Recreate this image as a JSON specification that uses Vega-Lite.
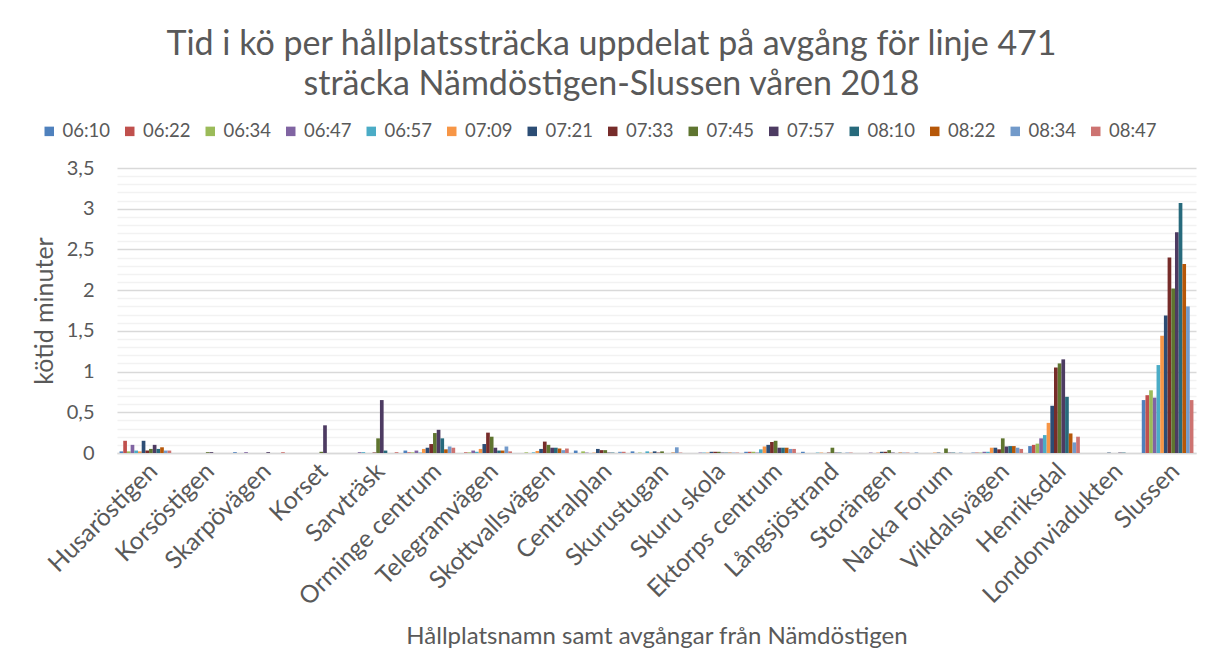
{
"$schema": "https://vega.github.io/schema/vega-lite/v6.json",
"width": 1079, "height": 285,
"autosize": {"type": "none"},
"padding": {"left": 117, "top": 168, "right": 26, "bottom": 213},
"background": "white",
"title": {"text": ["Tid i kö per hållplatssträcka uppdelat på avgång för linje 471", "sträcka Nämdöstigen-Slussen våren 2018"], "font": "Lato", "fontSize": 34, "fontWeight": "normal", "color": "#595959", "anchor": "middle", "dx": -45, "lineHeight": 40, "offset": 20},
"data": {"values": [
{"stop":"Husaröstigen","dep":"06:10","min":0.02},{"stop":"Husaröstigen","dep":"06:22","min":0.15},{"stop":"Husaröstigen","dep":"06:34","min":0.02},{"stop":"Husaröstigen","dep":"06:47","min":0.10},{"stop":"Husaröstigen","dep":"06:57","min":0.03},{"stop":"Husaröstigen","dep":"07:09","min":0.02},{"stop":"Husaröstigen","dep":"07:21","min":0.15},{"stop":"Husaröstigen","dep":"07:33","min":0.03},{"stop":"Husaröstigen","dep":"07:45","min":0.05},{"stop":"Husaröstigen","dep":"07:57","min":0.10},{"stop":"Husaröstigen","dep":"08:10","min":0.05},{"stop":"Husaröstigen","dep":"08:22","min":0.07},{"stop":"Husaröstigen","dep":"08:34","min":0.03},{"stop":"Husaröstigen","dep":"08:47","min":0.03},
{"stop":"Korsöstigen","dep":"06:10","min":0},{"stop":"Korsöstigen","dep":"06:22","min":0},{"stop":"Korsöstigen","dep":"06:34","min":0},{"stop":"Korsöstigen","dep":"06:47","min":0},{"stop":"Korsöstigen","dep":"06:57","min":0},{"stop":"Korsöstigen","dep":"07:09","min":0},{"stop":"Korsöstigen","dep":"07:21","min":0},{"stop":"Korsöstigen","dep":"07:33","min":0},{"stop":"Korsöstigen","dep":"07:45","min":0.01},{"stop":"Korsöstigen","dep":"07:57","min":0.01},{"stop":"Korsöstigen","dep":"08:10","min":0},{"stop":"Korsöstigen","dep":"08:22","min":0},{"stop":"Korsöstigen","dep":"08:34","min":0},{"stop":"Korsöstigen","dep":"08:47","min":0},
{"stop":"Skarpövägen","dep":"06:10","min":0.01},{"stop":"Skarpövägen","dep":"06:22","min":0},{"stop":"Skarpövägen","dep":"06:34","min":0},{"stop":"Skarpövägen","dep":"06:47","min":0.01},{"stop":"Skarpövägen","dep":"06:57","min":0},{"stop":"Skarpövägen","dep":"07:09","min":0},{"stop":"Skarpövägen","dep":"07:21","min":0},{"stop":"Skarpövägen","dep":"07:33","min":0},{"stop":"Skarpövägen","dep":"07:45","min":0},{"stop":"Skarpövägen","dep":"07:57","min":0.01},{"stop":"Skarpövägen","dep":"08:10","min":0},{"stop":"Skarpövägen","dep":"08:22","min":0},{"stop":"Skarpövägen","dep":"08:34","min":0},{"stop":"Skarpövägen","dep":"08:47","min":0.01},
{"stop":"Korset","dep":"06:10","min":0},{"stop":"Korset","dep":"06:22","min":0},{"stop":"Korset","dep":"06:34","min":0},{"stop":"Korset","dep":"06:47","min":0},{"stop":"Korset","dep":"06:57","min":0},{"stop":"Korset","dep":"07:09","min":0},{"stop":"Korset","dep":"07:21","min":0},{"stop":"Korset","dep":"07:33","min":0},{"stop":"Korset","dep":"07:45","min":0.015},{"stop":"Korset","dep":"07:57","min":0.34},{"stop":"Korset","dep":"08:10","min":0},{"stop":"Korset","dep":"08:22","min":0},{"stop":"Korset","dep":"08:34","min":0},{"stop":"Korset","dep":"08:47","min":0},
{"stop":"Sarvträsk","dep":"06:10","min":0},{"stop":"Sarvträsk","dep":"06:22","min":0},{"stop":"Sarvträsk","dep":"06:34","min":0},{"stop":"Sarvträsk","dep":"06:47","min":0.01},{"stop":"Sarvträsk","dep":"06:57","min":0.01},{"stop":"Sarvträsk","dep":"07:09","min":0},{"stop":"Sarvträsk","dep":"07:21","min":0},{"stop":"Sarvträsk","dep":"07:33","min":0.005},{"stop":"Sarvträsk","dep":"07:45","min":0.18},{"stop":"Sarvträsk","dep":"07:57","min":0.65},{"stop":"Sarvträsk","dep":"08:10","min":0.03},{"stop":"Sarvträsk","dep":"08:22","min":0},{"stop":"Sarvträsk","dep":"08:34","min":0},{"stop":"Sarvträsk","dep":"08:47","min":0.01},
{"stop":"Orminge centrum","dep":"06:10","min":0.03},{"stop":"Orminge centrum","dep":"06:22","min":0.008},{"stop":"Orminge centrum","dep":"06:34","min":0.008},{"stop":"Orminge centrum","dep":"06:47","min":0.03},{"stop":"Orminge centrum","dep":"06:57","min":0.005},{"stop":"Orminge centrum","dep":"07:09","min":0.05},{"stop":"Orminge centrum","dep":"07:21","min":0.065},{"stop":"Orminge centrum","dep":"07:33","min":0.11},{"stop":"Orminge centrum","dep":"07:45","min":0.245},{"stop":"Orminge centrum","dep":"07:57","min":0.285},{"stop":"Orminge centrum","dep":"08:10","min":0.18},{"stop":"Orminge centrum","dep":"08:22","min":0.045},{"stop":"Orminge centrum","dep":"08:34","min":0.08},{"stop":"Orminge centrum","dep":"08:47","min":0.065},
{"stop":"Telegramvägen","dep":"06:10","min":0},{"stop":"Telegramvägen","dep":"06:22","min":0.008},{"stop":"Telegramvägen","dep":"06:34","min":0.008},{"stop":"Telegramvägen","dep":"06:47","min":0.03},{"stop":"Telegramvägen","dep":"06:57","min":0.015},{"stop":"Telegramvägen","dep":"07:09","min":0.05},{"stop":"Telegramvägen","dep":"07:21","min":0.11},{"stop":"Telegramvägen","dep":"07:33","min":0.25},{"stop":"Telegramvägen","dep":"07:45","min":0.2},{"stop":"Telegramvägen","dep":"07:57","min":0.065},{"stop":"Telegramvägen","dep":"08:10","min":0.03},{"stop":"Telegramvägen","dep":"08:22","min":0.03},{"stop":"Telegramvägen","dep":"08:34","min":0.08},{"stop":"Telegramvägen","dep":"08:47","min":0.02},
{"stop":"Skottvallsvägen","dep":"06:10","min":0},{"stop":"Skottvallsvägen","dep":"06:22","min":0},{"stop":"Skottvallsvägen","dep":"06:34","min":0.008},{"stop":"Skottvallsvägen","dep":"06:47","min":0},{"stop":"Skottvallsvägen","dep":"06:57","min":0.008},{"stop":"Skottvallsvägen","dep":"07:09","min":0.025},{"stop":"Skottvallsvägen","dep":"07:21","min":0.05},{"stop":"Skottvallsvägen","dep":"07:33","min":0.14},{"stop":"Skottvallsvägen","dep":"07:45","min":0.1},{"stop":"Skottvallsvägen","dep":"07:57","min":0.065},{"stop":"Skottvallsvägen","dep":"08:10","min":0.065},{"stop":"Skottvallsvägen","dep":"08:22","min":0.055},{"stop":"Skottvallsvägen","dep":"08:34","min":0.035},{"stop":"Skottvallsvägen","dep":"08:47","min":0.055},
{"stop":"Centralplan","dep":"06:10","min":0.03},{"stop":"Centralplan","dep":"06:22","min":0},{"stop":"Centralplan","dep":"06:34","min":0.02},{"stop":"Centralplan","dep":"06:47","min":0.005},{"stop":"Centralplan","dep":"06:57","min":0},{"stop":"Centralplan","dep":"07:09","min":0.005},{"stop":"Centralplan","dep":"07:21","min":0.05},{"stop":"Centralplan","dep":"07:33","min":0.035},{"stop":"Centralplan","dep":"07:45","min":0.035},{"stop":"Centralplan","dep":"07:57","min":0.005},{"stop":"Centralplan","dep":"08:10","min":0.005},{"stop":"Centralplan","dep":"08:22","min":0},{"stop":"Centralplan","dep":"08:34","min":0.015},{"stop":"Centralplan","dep":"08:47","min":0.015},
{"stop":"Skurustugan","dep":"06:10","min":0.02},{"stop":"Skurustugan","dep":"06:22","min":0},{"stop":"Skurustugan","dep":"06:34","min":0.005},{"stop":"Skurustugan","dep":"06:47","min":0},{"stop":"Skurustugan","dep":"06:57","min":0.02},{"stop":"Skurustugan","dep":"07:09","min":0.005},{"stop":"Skurustugan","dep":"07:21","min":0.02},{"stop":"Skurustugan","dep":"07:33","min":0.005},{"stop":"Skurustugan","dep":"07:45","min":0.02},{"stop":"Skurustugan","dep":"07:57","min":0},{"stop":"Skurustugan","dep":"08:10","min":0},{"stop":"Skurustugan","dep":"08:22","min":0.005},{"stop":"Skurustugan","dep":"08:34","min":0.07},{"stop":"Skurustugan","dep":"08:47","min":0.005},
{"stop":"Skuru skola","dep":"06:10","min":0},{"stop":"Skuru skola","dep":"06:22","min":0},{"stop":"Skuru skola","dep":"06:34","min":0},{"stop":"Skuru skola","dep":"06:47","min":0.005},{"stop":"Skuru skola","dep":"06:57","min":0.005},{"stop":"Skuru skola","dep":"07:09","min":0.005},{"stop":"Skuru skola","dep":"07:21","min":0.015},{"stop":"Skuru skola","dep":"07:33","min":0.015},{"stop":"Skuru skola","dep":"07:45","min":0.015},{"stop":"Skuru skola","dep":"07:57","min":0.005},{"stop":"Skuru skola","dep":"08:10","min":0.005},{"stop":"Skuru skola","dep":"08:22","min":0.005},{"stop":"Skuru skola","dep":"08:34","min":0.005},{"stop":"Skuru skola","dep":"08:47","min":0.005},
{"stop":"Ektorps centrum","dep":"06:10","min":0.015},{"stop":"Ektorps centrum","dep":"06:22","min":0.015},{"stop":"Ektorps centrum","dep":"06:34","min":0.015},{"stop":"Ektorps centrum","dep":"06:47","min":0.005},{"stop":"Ektorps centrum","dep":"06:57","min":0.045},{"stop":"Ektorps centrum","dep":"07:09","min":0.08},{"stop":"Ektorps centrum","dep":"07:21","min":0.1},{"stop":"Ektorps centrum","dep":"07:33","min":0.135},{"stop":"Ektorps centrum","dep":"07:45","min":0.15},{"stop":"Ektorps centrum","dep":"07:57","min":0.065},{"stop":"Ektorps centrum","dep":"08:10","min":0.065},{"stop":"Ektorps centrum","dep":"08:22","min":0.065},{"stop":"Ektorps centrum","dep":"08:34","min":0.05},{"stop":"Ektorps centrum","dep":"08:47","min":0.05},
{"stop":"Långsjöstrand","dep":"06:10","min":0.015},{"stop":"Långsjöstrand","dep":"06:22","min":0},{"stop":"Långsjöstrand","dep":"06:34","min":0},{"stop":"Långsjöstrand","dep":"06:47","min":0},{"stop":"Långsjöstrand","dep":"06:57","min":0.005},{"stop":"Långsjöstrand","dep":"07:09","min":0.005},{"stop":"Långsjöstrand","dep":"07:21","min":0},{"stop":"Långsjöstrand","dep":"07:33","min":0.005},{"stop":"Långsjöstrand","dep":"07:45","min":0.065},{"stop":"Långsjöstrand","dep":"07:57","min":0.005},{"stop":"Långsjöstrand","dep":"08:10","min":0.005},{"stop":"Långsjöstrand","dep":"08:22","min":0},{"stop":"Långsjöstrand","dep":"08:34","min":0.005},{"stop":"Långsjöstrand","dep":"08:47","min":0.005},
{"stop":"Storängen","dep":"06:10","min":0},{"stop":"Storängen","dep":"06:22","min":0},{"stop":"Storängen","dep":"06:34","min":0},{"stop":"Storängen","dep":"06:47","min":0.005},{"stop":"Storängen","dep":"06:57","min":0},{"stop":"Storängen","dep":"07:09","min":0.005},{"stop":"Storängen","dep":"07:21","min":0.015},{"stop":"Storängen","dep":"07:33","min":0.015},{"stop":"Storängen","dep":"07:45","min":0.035},{"stop":"Storängen","dep":"07:57","min":0.005},{"stop":"Storängen","dep":"08:10","min":0},{"stop":"Storängen","dep":"08:22","min":0.005},{"stop":"Storängen","dep":"08:34","min":0.005},{"stop":"Storängen","dep":"08:47","min":0.005},
{"stop":"Nacka Forum","dep":"06:10","min":0.005},{"stop":"Nacka Forum","dep":"06:22","min":0},{"stop":"Nacka Forum","dep":"06:34","min":0},{"stop":"Nacka Forum","dep":"06:47","min":0},{"stop":"Nacka Forum","dep":"06:57","min":0},{"stop":"Nacka Forum","dep":"07:09","min":0.005},{"stop":"Nacka Forum","dep":"07:21","min":0.005},{"stop":"Nacka Forum","dep":"07:33","min":0},{"stop":"Nacka Forum","dep":"07:45","min":0.055},{"stop":"Nacka Forum","dep":"07:57","min":0.005},{"stop":"Nacka Forum","dep":"08:10","min":0.005},{"stop":"Nacka Forum","dep":"08:22","min":0},{"stop":"Nacka Forum","dep":"08:34","min":0.005},{"stop":"Nacka Forum","dep":"08:47","min":0},
{"stop":"Vikdalsvägen","dep":"06:10","min":0.005},{"stop":"Vikdalsvägen","dep":"06:22","min":0.005},{"stop":"Vikdalsvägen","dep":"06:34","min":0.005},{"stop":"Vikdalsvägen","dep":"06:47","min":0.015},{"stop":"Vikdalsvägen","dep":"06:57","min":0.015},{"stop":"Vikdalsvägen","dep":"07:09","min":0.065},{"stop":"Vikdalsvägen","dep":"07:21","min":0.065},{"stop":"Vikdalsvägen","dep":"07:33","min":0.045},{"stop":"Vikdalsvägen","dep":"07:45","min":0.18},{"stop":"Vikdalsvägen","dep":"07:57","min":0.08},{"stop":"Vikdalsvägen","dep":"08:10","min":0.085},{"stop":"Vikdalsvägen","dep":"08:22","min":0.085},{"stop":"Vikdalsvägen","dep":"08:34","min":0.065},{"stop":"Vikdalsvägen","dep":"08:47","min":0.05},
{"stop":"Henriksdal","dep":"06:10","min":0.085},{"stop":"Henriksdal","dep":"06:22","min":0.10},{"stop":"Henriksdal","dep":"06:34","min":0.115},{"stop":"Henriksdal","dep":"06:47","min":0.18},{"stop":"Henriksdal","dep":"06:57","min":0.22},{"stop":"Henriksdal","dep":"07:09","min":0.37},{"stop":"Henriksdal","dep":"07:21","min":0.58},{"stop":"Henriksdal","dep":"07:33","min":1.05},{"stop":"Henriksdal","dep":"07:45","min":1.10},{"stop":"Henriksdal","dep":"07:57","min":1.15},{"stop":"Henriksdal","dep":"08:10","min":0.69},{"stop":"Henriksdal","dep":"08:22","min":0.24},{"stop":"Henriksdal","dep":"08:34","min":0.13},{"stop":"Henriksdal","dep":"08:47","min":0.20},
{"stop":"Londonviadukten","dep":"06:10","min":0},{"stop":"Londonviadukten","dep":"06:22","min":0},{"stop":"Londonviadukten","dep":"06:34","min":0},{"stop":"Londonviadukten","dep":"06:47","min":0},{"stop":"Londonviadukten","dep":"06:57","min":0},{"stop":"Londonviadukten","dep":"07:09","min":0},{"stop":"Londonviadukten","dep":"07:21","min":0.005},{"stop":"Londonviadukten","dep":"07:33","min":0},{"stop":"Londonviadukten","dep":"07:45","min":0},{"stop":"Londonviadukten","dep":"07:57","min":0.005},{"stop":"Londonviadukten","dep":"08:10","min":0.005},{"stop":"Londonviadukten","dep":"08:22","min":0},{"stop":"Londonviadukten","dep":"08:34","min":0},{"stop":"Londonviadukten","dep":"08:47","min":0},
{"stop":"Slussen","dep":"06:10","min":0.65},{"stop":"Slussen","dep":"06:22","min":0.71},{"stop":"Slussen","dep":"06:34","min":0.77},{"stop":"Slussen","dep":"06:47","min":0.68},{"stop":"Slussen","dep":"06:57","min":1.08},{"stop":"Slussen","dep":"07:09","min":1.44},{"stop":"Slussen","dep":"07:21","min":1.69},{"stop":"Slussen","dep":"07:33","min":2.40},{"stop":"Slussen","dep":"07:45","min":2.02},{"stop":"Slussen","dep":"07:57","min":2.71},{"stop":"Slussen","dep":"08:10","min":3.07},{"stop":"Slussen","dep":"08:22","min":2.32},{"stop":"Slussen","dep":"08:34","min":1.80},{"stop":"Slussen","dep":"08:47","min":0.65}
]},
"mark": {"type": "bar"},
"encoding": {
"x": {"field": "stop", "type": "nominal", "sort": ["Husaröstigen","Korsöstigen","Skarpövägen","Korset","Sarvträsk","Orminge centrum","Telegramvägen","Skottvallsvägen","Centralplan","Skurustugan","Skuru skola","Ektorps centrum","Långsjöstrand","Storängen","Nacka Forum","Vikdalsvägen","Henriksdal","Londonviadukten","Slussen"],
  "scale": {"paddingInner": 0.09, "paddingOuter": 0.045},
  "axis": {"title": "Hållplatsnamn samt avgångar från Nämdöstigen", "labelAngle": -45, "labelFontSize": 24.5, "titleFontSize": 24, "titleFontWeight": "normal", "ticks": false, "domainColor": "#D9D9D9", "domainWidth": 1.5, "labelPadding": 6, "titlePadding": 15, "labelLimit": 300}},
"xOffset": {"field": "dep", "type": "nominal", "sort": ["06:10","06:22","06:34","06:47","06:57","07:09","07:21","07:33","07:45","07:57","08:10","08:22","08:34","08:47"], "scale": {"paddingInner": 0, "paddingOuter": 0}},
"y": {"field": "min", "type": "quantitative", "scale": {"domain": [0, 3.5], "nice": false},
  "axis": {"title": "kötid minuter", "values": [0,0.1,0.2,0.3,0.4,0.5,0.6,0.7,0.8,0.9,1,1.1,1.2,1.3,1.4,1.5,1.6,1.7,1.8,1.9,2,2.1,2.2,2.3,2.4,2.5,2.6,2.7,2.8,2.9,3,3.1,3.2,3.3,3.4,3.5],
   "labelExpr": "abs(datum.value*2 - round(datum.value*2)) < 0.001 ? replace(format(datum.value, '.2~f'), '.', ',') : ''",
   "labelOverlap": false, "labelBound": false, "labelFlush": false,
   "gridColor": {"condition": {"test": "abs(datum.value*2 - round(datum.value*2)) < 0.001", "value": "#D9D9D9"}, "value": "#F2F2F2"},
   "gridWidth": 1.5,
   "domain": false, "ticks": false, "labelPadding": 23, "labelFontSize": 20, "titleFontSize": 25, "titleFontWeight": "normal", "titlePadding": 9}},
"color": {"field": "dep", "type": "nominal",
  "scale": {"domain": ["06:10","06:22","06:34","06:47","06:57","07:09","07:21","07:33","07:45","07:57","08:10","08:22","08:34","08:47"],
   "range": ["#4F81BD","#C0504D","#9BBB59","#8064A2","#4BACC6","#F79646","#2C4D75","#772C2A","#5F7530","#4D3B62","#276A7C","#B65708","#729ACA","#CD7371"]},
  "legend": {"title": null, "orient": "none", "legendX": -77, "legendY": -46, "direction": "horizontal", "symbolType": "square", "symbolSize": 90, "labelFontSize": 18.5, "labelOffset": 4, "columnPadding": 9.5}}
},
"config": {
 "font": "Lato",
 "view": {"stroke": null},
 "axis": {"labelColor": "#595959", "titleColor": "#595959", "labelFont": "Lato", "titleFont": "Lato"},
 "legend": {"labelColor": "#595959", "labelFont": "Lato"}
}
}
